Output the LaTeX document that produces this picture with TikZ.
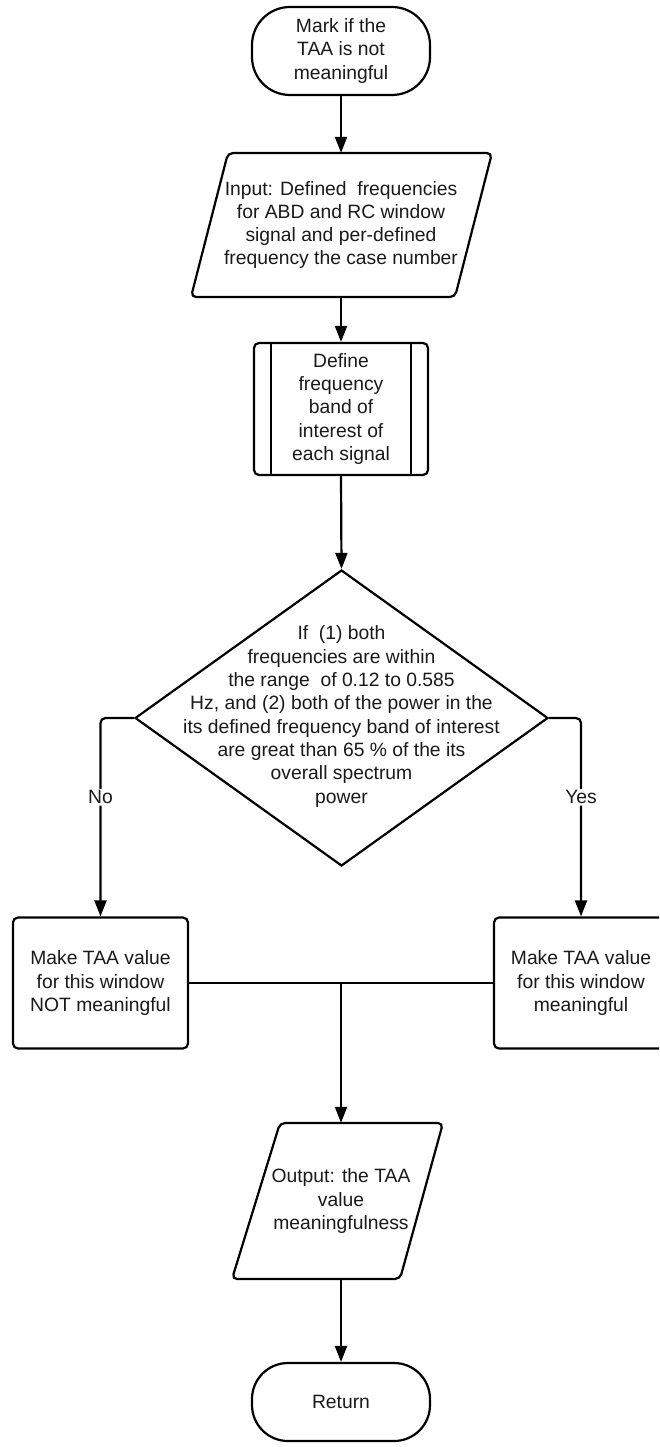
\documentclass[tikz,border=0pt]{standalone}
\usepackage{fontspec}
\setmainfont{Liberation Sans}
\usetikzlibrary{shapes.geometric,arrows.meta}
\definecolor{txtc}{RGB}{25,25,25}
\begin{document}
\begin{tikzpicture}[x=1pt,y=-1pt,
  every node/.style={font=\fontsize{19.3}{23.3}\selectfont, text=txtc, align=center},
  conn/.style={draw=black, line width=2.2pt},
  arr/.style={draw=black, line width=2.2pt, -{Triangle[width=12pt,length=16pt]}},
  shapeline/.style={draw=black, line width=2.2pt},
  terminal/.style={shapeline, rectangle, rounded corners=38pt, minimum width=178pt, minimum height=88pt, inner sep=0},
  procbox/.style={shapeline, rectangle, rounded corners=5pt, inner sep=0},
  txtonly/.style={inner sep=0},
  lbl/.style={fill=white, inner sep=1.5pt}]
\useasboundingbox (0,0) rectangle (659,1447);
\clip (0,0) rectangle (659,1447);

% nodes
\node[terminal] (start) at (341,51) {Mark if the\\TAA is not\\meaningful};

\node[txtonly, minimum height=144pt] (in) at (341,225) {Input: Defined\ \ frequencies\\for ABD and RC window\\signal and per-defined\\frequency the case number};
\draw[shapeline, rounded corners=5pt] (191,297) -- (228,153) -- (492,153) -- (455,297) -- cycle;

\node[procbox, minimum width=174pt, minimum height=132pt] (proc) at (341,409) {Define\\frequency\\band of\\interest of\\each signal};
\draw[shapeline] ([xshift=18pt]proc.north west) -- ([xshift=18pt]proc.south west);
\draw[shapeline] ([xshift=-18pt]proc.north east) -- ([xshift=-18pt]proc.south east);

\node[diamond, shapeline, minimum width=413pt, minimum height=296pt, inner sep=0] (dec) at (341.5,718) {};
\node[txtonly] (dect) at (341.5,716.5) {If\ \ (1) both\\frequencies are within\\the range\ \ of 0.12 to 0.585\\Hz, and (2) both of the power in the\\its defined frequency band of interest\\are great than 65 \% of the its\\overall spectrum\\power};

\node[procbox, minimum width=175pt, minimum height=131pt] (lb) at (100.5,983) {Make TAA value\\for this window\\NOT meaningful};
\node[procbox, minimum width=174pt, minimum height=131pt] (rb) at (581,983) {Make TAA value\\for this window\\meaningful};

\node[txtonly, minimum height=156pt] (out) at (341,1201) {Output: the TAA\\value\\meaningfulness};
\draw[shapeline, rounded corners=5pt] (232,1279) -- (280,1123) -- (443,1123) -- (400,1279) -- cycle;

\node[terminal, minimum height=78pt, rounded corners=36pt] (ret) at (341,1402) {Return};

% connectors
\draw[arr] (start.south) -- (in.north);
\draw[arr] (in.south) -- (proc.north);
\draw[arr] (proc.south) -- (dec.north);
\draw[arr, rounded corners=5pt] (dec.west) -| node[lbl, pos=0.70]{No} (lb.north);
\draw[arr, rounded corners=5pt] (dec.east) -| node[lbl, pos=0.70]{Yes} (rb.north);
\coordinate (j) at (341,983);
\draw[conn] (lb.east) -- (j);
\draw[conn] (rb.west) -- (j);
\draw[arr] (j) -- (out.north);
\draw[arr] (out.south) -- (ret.north);
\end{tikzpicture}
\end{document}
